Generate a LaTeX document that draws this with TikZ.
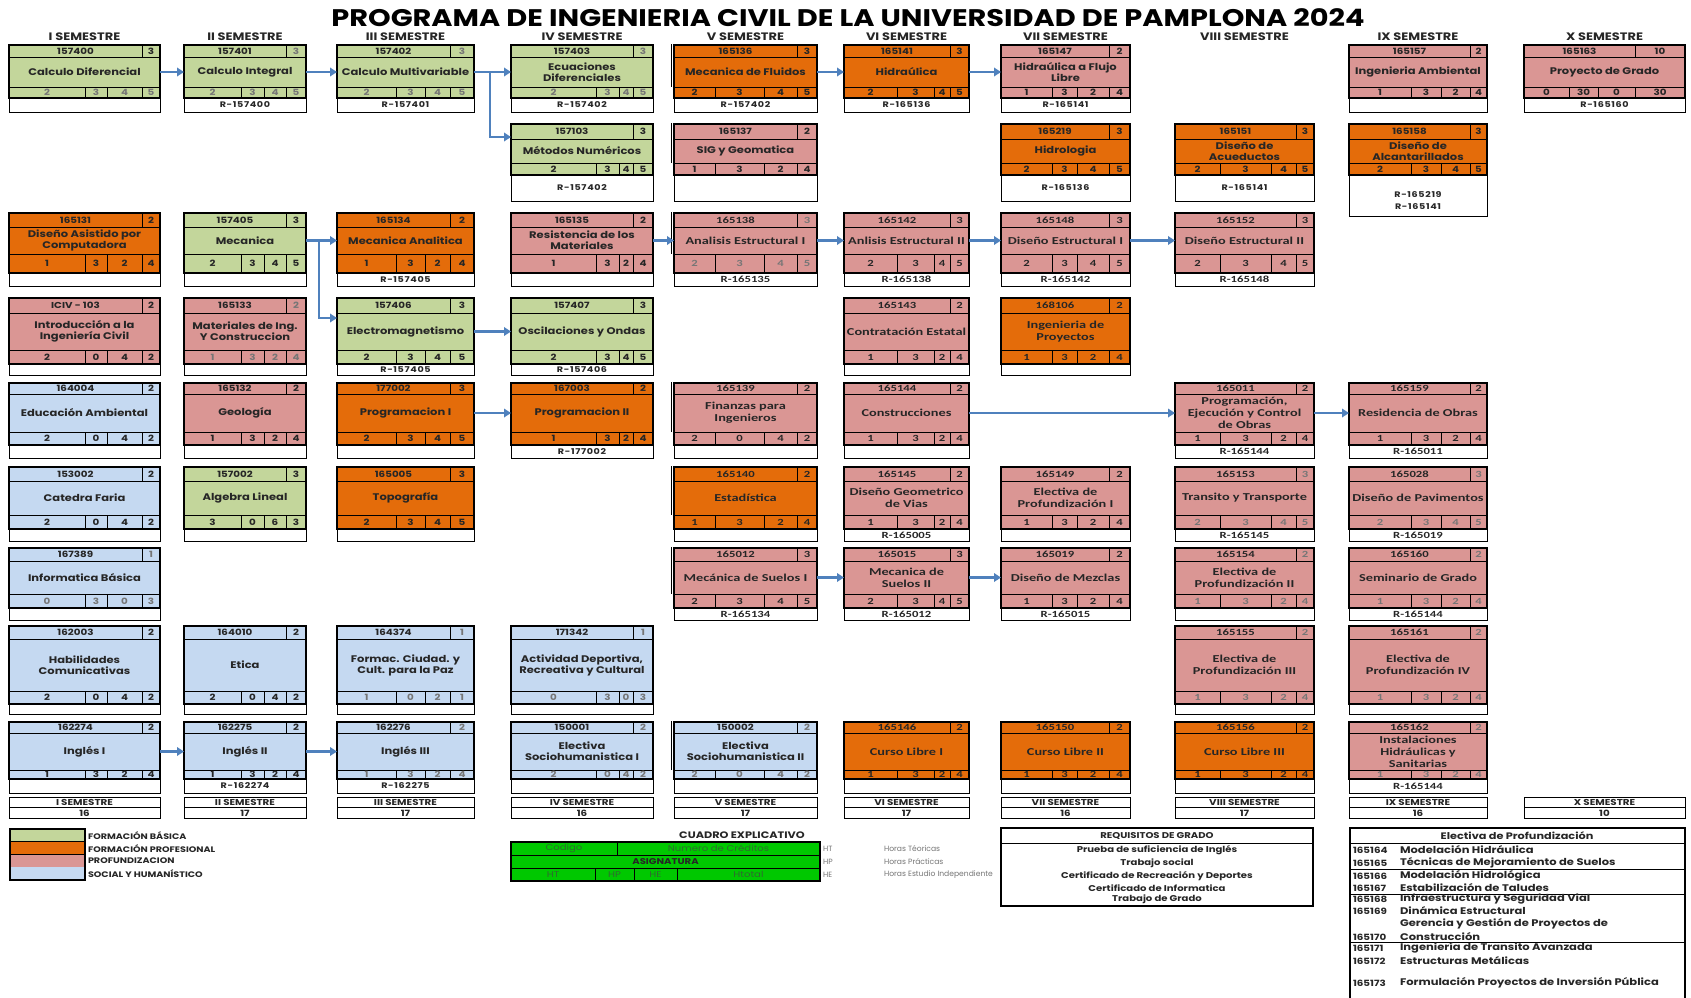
\documentclass[tikz,border=0pt]{standalone}
\usepackage{fontspec}
\setmainfont{Poppins}
\newfontfamily\gothic[FakeStretch=1.2]{Poppins}
\newfontfamily\gothicwide[FakeStretch=1.2,LetterSpace=8]{Poppins}
\newfontfamily\calib[FakeStretch=1.35]{Carlito}
\usetikzlibrary{arrows.meta}

\definecolor{basica}{HTML}{C3D69B}
\definecolor{profesional}{HTML}{E46C0A}
\definecolor{profund}{HTML}{DA9694}
\definecolor{social}{HTML}{C5D9F1}
\definecolor{flecha}{HTML}{4F81BD}
\definecolor{tinta}{HTML}{262626}
\definecolor{tenue}{HTML}{767676}
\definecolor{verde}{HTML}{00C800}
\definecolor{verdetxt}{HTML}{2F6A2F}

% fonts used inside the course boxes
\def\gothicTitle{\gothic\bfseries\fontsize{9.6}{11}\selectfont}
\def\gothicSmall{\gothic\bfseries\fontsize{8.6}{9}\selectfont}
\def\gothicReq{\gothicwide\bfseries\fontsize{8}{11.5}\selectfont}
\def\calibTitle{\calib\bfseries\fontsize{10.6}{12}\selectfont}
\def\calibSmall{\calib\bfseries\fontsize{9.4}{10}\selectfont}
\def\calibReq{\calib\bfseries\fontsize{9.4}{11}\selectfont}

% column geometry: left, right, and the three dividers of the hours row
\def\setcol#1#2#3#4#5{\def\xa{#1}\def\xb{#2}\def\da{#3}\def\db{#4}\def\dc{#5}}
\expandafter\def\csname cgI\endcsname{\setcol{9}{160}{85}{107}{142}}
\expandafter\def\csname cgII\endcsname{\setcol{184}{306}{241}{264}{286}}
\expandafter\def\csname cgIII\endcsname{\setcol{337}{474}{396}{425}{450}}
\expandafter\def\csname cgIV\endcsname{\setcol{511}{653}{596}{619}{633}}
\expandafter\def\csname cgV\endcsname{\setcol{674}{817}{715}{764}{797}}
\expandafter\def\csname cgVI\endcsname{\setcol{844}{969}{897}{934}{950}}
\expandafter\def\csname cgVII\endcsname{\setcol{1001}{1130}{1052}{1077}{1109}}
\expandafter\def\csname cgVIII\endcsname{\setcol{1175}{1314}{1220}{1271}{1296}}
\expandafter\def\csname cgIX\endcsname{\setcol{1349}{1487}{1411}{1441}{1470}}
\expandafter\def\csname cgX\endcsname{\setcol{1524}{1685}{1569}{1598}{1635}}

% row geometry: top, code row bottom, name bottom, hours bottom, requisite bottom
\def\setrow#1#2#3#4#5{\def\ya{#1}\def\yb{#2}\def\yc{#3}\def\yd{#4}\def\ye{#5}}
\expandafter\def\csname rg1\endcsname{\setrow{45}{57}{87}{98}{112}}
\expandafter\def\csname rg2\endcsname{\setrow{124}{139}{163}{175}{201}}
\expandafter\def\csname rg3\endcsname{\setrow{213}{227}{254}{273}{286}}
\expandafter\def\csname rg4\endcsname{\setrow{298}{313}{350}{364}{375}}
\expandafter\def\csname rg5\endcsname{\setrow{383}{394}{432}{445}{458}}
\expandafter\def\csname rg6\endcsname{\setrow{467}{481}{515}{529}{541}}
\expandafter\def\csname rg7\endcsname{\setrow{548}{561}{594}{608}{620}}
\expandafter\def\csname rg8\endcsname{\setrow{626}{639}{691}{704}{714}}
\expandafter\def\csname rg9\endcsname{\setrow{722}{733}{770}{779}{793}}

\def\splithours#1/#2/#3/#4\relax{\def\ha{#1}\def\hb{#2}\def\hc{#3}\def\hd{#4}}

\pgfkeys{
  /crs/.is family,
  /crs/colour/.store in=\crsColour,
  /crs/hours/.store in=\crsHours,
  /crs/credit/.store in=\crsCredit,
  /crs/reqdrop/.store in=\crsDrop,
  /crs/reqshift/.store in=\crsShift,
  /crs/edge/.store in=\crsEdge,
  /crs/ghost/.style={/crs/edge=1},
  /crs/muted/.style={/crs/hours=tenue,/crs/credit=tenue},
  /crs/gothic/.code={\def\crsTitleFont{\gothicTitle}\def\crsSmallFont{\gothicSmall}\def\crsReqFont{\gothicReq}},
  /crs/calibri/.code={\def\crsTitleFont{\calibTitle}\def\crsSmallFont{\calibSmall}\def\crsReqFont{\calibReq}},
}

\tikzset{
  cellrule/.style={draw=black,line width=0.8pt},
  boxframe/.style={draw=black,line width=2.3pt},
  reqrule/.style={draw=black,line width=1pt,fill=white},
  txt/.style={inner sep=0pt,outer sep=0pt,text=tinta},
  prereq/.style={draw=flecha,line width=2.6pt,-{Triangle[length=7pt,width=8.5pt]}},
  semhead/.style={txt,font=\gothic\bfseries\fontsize{10.8}{12}\selectfont},
  footcell/.style={txt,draw=black,line width=0.9pt,minimum height=10.5pt,
    font=\gothic\bfseries\fontsize{8.6}{9}\selectfont},
  legtxt/.style={txt,anchor=west,font=\gothic\bfseries\fontsize{8}{9}\selectfont},
  notetxt/.style={txt,font=\gothic\bfseries\fontsize{8.4}{9}\selectfont},
  listtxt/.style={txt,anchor=west,font=\gothic\bfseries\fontsize{9.6}{10}\selectfont},
  listcode/.style={txt,anchor=west,font=\gothic\bfseries\fontsize{8.6}{9}\selectfont},
}

% one course: [options]{node}{column}{row}{code}{credits}{name}{hours a/b/c/d}{requisite}
\newcommand\course[9][]{%
\begin{scope}
  \pgfkeys{/crs/.cd,colour=profund,hours=tinta,credit=tinta,gothic,reqdrop=0,reqshift=0,edge=0,#1}%
  \csname cg#3\endcsname\csname rg#4\endcsname
  \pgfmathsetmacro\ye{\ye+\crsDrop}%
  \splithours#8\relax
  \draw[reqrule] (\xa,\yd) rectangle (\xb,\ye);
  \fill[\crsColour] (\xa,\ya) rectangle (\xb,\yd);
  \ifnum\crsEdge=1 \draw[line width=0.7pt] ({\xa-3},{\ya-1}) -- ({\xa-3},\yc);\fi
  \draw[cellrule] (\xa,\yb) -- (\xb,\yb) (\xa,\yc) -- (\xb,\yc)
    (\dc,\ya) -- (\dc,\yb) (\da,\yc) -- (\da,\yd) (\db,\yc) -- (\db,\yd) (\dc,\yc) -- (\dc,\yd);
  \draw[boxframe] (\xa,\ya) rectangle (\xb,\yd);
  \node[txt,font=\crsSmallFont] (#2-code) at ({(\xa+\dc)/2},{(\ya+\yb)/2}) {#5};
  \node[txt,font=\crsSmallFont,text=\crsCredit] (#2-cr) at ({(\dc+\xb)/2},{(\ya+\yb)/2}) {#6};
  \node[txt,font=\crsTitleFont,align=center,minimum width={\xb-\xa},minimum height={\yc-\yb}]
    (#2) at ({(\xa+\xb)/2},{(\yb+\yc)/2}) {#7};
  \node[txt,font=\crsSmallFont,text=\crsHours] (#2-ht) at ({(\xa+\da)/2},{(\yc+\yd)/2}) {\ha};
  \node[txt,font=\crsSmallFont,text=\crsHours] (#2-hp) at ({(\da+\db)/2},{(\yc+\yd)/2}) {\hb};
  \node[txt,font=\crsSmallFont,text=\crsHours] (#2-he) at ({(\db+\dc)/2},{(\yc+\yd)/2}) {\hc};
  \node[txt,font=\crsSmallFont,text=\crsHours] (#2-hs) at ({(\dc+\xb)/2},{(\yc+\yd)/2}) {\hd};
  \if\relax\detokenize{#9}\relax\else
    \node[txt,font=\crsReqFont,align=center] (#2-req) at ({(\xa+\xb)/2},{(\yd+\ye)/2+\crsShift}) {#9};
  \fi
\end{scope}}

\begin{document}
\begin{tikzpicture}[x=1pt,y=-1pt]
\useasboundingbox[fill=white] (0,0) rectangle (1691,997);

\node[txt,text=black,font=\gothic\bfseries\fontsize{24}{26}\selectfont] (titulo) at (848,18)
  {PROGRAMA DE INGENIERIA CIVIL DE LA UNIVERSIDAD DE PAMPLONA 2024};

% semester headings, footers and credit totals
\foreach \semc/\tot [count=\i] in {I/16,II/17,III/17,IV/16,V/17,VI/17,VII/16,VIII/17,IX/16,X/10}{
  \csname cg\semc\endcsname
  \node[semhead] (sem\i) at ({(\xa+\xb)/2},37) {\semc\ SEMESTRE};
  \node[footcell,minimum width={\xb-\xa}] (foot\i) at ({(\xa+\xb)/2},802.5) {\semc\ SEMESTRE};
  \node[footcell,minimum width={\xb-\xa}] (tot\i) at ({(\xa+\xb)/2},813) {\tot};
}

% I semestre
\course[colour=basica,hours=tenue]{c157400}{I}{1}{157400}{3}{Calculo Diferencial}{2/3/4/5}{}
\course[colour=profesional]{c165131}{I}{3}{165131}{2}{Diseño Asistido por\\Computadora}{1/3/2/4}{}
\course{cICIV}{I}{4}{ICIV - 103}{2}{Introducción a la\\Ingeniería Civil}{2/0/4/2}{}
\course[colour=social]{c164004}{I}{5}{164004}{2}{Educación Ambiental}{2/0/4/2}{}
\course[colour=social]{c153002}{I}{6}{153002}{2}{Catedra Faria}{2/0/4/2}{}
\course[colour=social,muted]{c167389}{I}{7}{167389}{1}{Informatica Básica}{0/3/0/3}{}
\course[colour=social]{c162003}{I}{8}{162003}{2}{Habilidades\\Comunicativas}{2/0/4/2}{}
\course[colour=social]{c162274}{I}{9}{162274}{2}{Inglés I}{1/3/2/4}{}

% II semestre
\course[colour=basica,muted]{c157401}{II}{1}{157401}{3}{Calculo Integral}{2/3/4/5}{R-157400}
\course[colour=basica]{c157405}{II}{3}{157405}{3}{Mecanica}{2/3/4/5}{}
\course[muted]{c165133}{II}{4}{165133}{2}{Materiales de Ing.\\Y Construccion}{1/3/2/4}{}
\course{c165132}{II}{5}{165132}{2}{Geología}{1/3/2/4}{}
\course[colour=basica]{c157002}{II}{6}{157002}{3}{Algebra Lineal}{3/0/6/3}{}
\course[colour=social]{c164010}{II}{8}{164010}{2}{Etica}{2/0/4/2}{}
\course[colour=social]{c162275}{II}{9}{162275}{2}{Inglés II}{1/3/2/4}{R-162274}

% III semestre
\course[colour=basica,muted]{c157402}{III}{1}{157402}{3}{Calculo Multivariable}{2/3/4/5}{R-157401}
\course[colour=profesional]{c165134}{III}{3}{165134}{2}{Mecanica Analitica}{1/3/2/4}{R-157405}
\course[colour=basica]{c157406}{III}{4}{157406}{3}{Electromagnetismo}{2/3/4/5}{R-157405}
\course[colour=profesional]{c177002}{III}{5}{177002}{3}{Programacion I}{2/3/4/5}{}
\course[colour=profesional]{c165005}{III}{6}{165005}{3}{Topografía}{2/3/4/5}{}
\course[colour=social,muted]{c164374}{III}{8}{164374}{1}{Formac. Ciudad. y\\Cult. para la Paz}{1/0/2/1}{}
\course[colour=social,muted]{c162276}{III}{9}{162276}{2}{Inglés III}{1/3/2/4}{R-162275}

% IV semestre
\course[colour=basica,muted]{c157403}{IV}{1}{157403}{3}{Ecuaciones\\Diferenciales}{2/3/4/5}{R-157402}
\course[colour=basica]{c157103}{IV}{2}{157103}{3}{Métodos Numéricos}{2/3/4/5}{R-157402}
\course{c165135}{IV}{3}{165135}{2}{Resistencia de los\\Materiales}{1/3/2/4}{}
\course[colour=basica]{c157407}{IV}{4}{157407}{3}{Oscilaciones y Ondas}{2/3/4/5}{R-157406}
\course[colour=profesional]{c167003}{IV}{5}{167003}{2}{Programacion II}{1/3/2/4}{R-177002}
\course[colour=social,muted]{c171342}{IV}{8}{171342}{1}{Actividad Deportiva,\\Recreativa y Cultural}{0/3/0/3}{}
\course[colour=social,muted]{c150001}{IV}{9}{150001}{2}{Electiva\\Sociohumanistica I}{2/0/4/2}{}

% V semestre
\course[colour=profesional,ghost]{c165136}{V}{1}{165136}{3}{Mecanica de Fluidos}{2/3/4/5}{R-157402}
\course[ghost]{c165137}{V}{2}{165137}{2}{SIG y Geomatica}{1/3/2/4}{}
\course[calibri,muted,ghost]{c165138}{V}{3}{165138}{3}{Analisis Estructural I}{2/3/4/5}{R-165135}
\course[calibri,ghost]{c165139}{V}{5}{165139}{2}{Finanzas para\\Ingenieros}{2/0/4/2}{}
\course[calibri,colour=profesional,ghost]{c165140}{V}{6}{165140}{2}{Estadística}{1/3/2/4}{}
\course[calibri,ghost]{c165012}{V}{7}{165012}{3}{Mecánica de Suelos I}{2/3/4/5}{R-165134}
\course[colour=social,muted,ghost]{c150002}{V}{9}{150002}{2}{Electiva\\Sociohumanistica II}{2/0/4/2}{}

% VI semestre
\course[colour=profesional]{c165141}{VI}{1}{165141}{3}{Hidraúlica}{2/3/4/5}{R-165136}
\course[calibri]{c165142}{VI}{3}{165142}{3}{Anlisis Estructural II}{2/3/4/5}{R-165138}
\course[calibri]{c165143}{VI}{4}{165143}{2}{Contratación Estatal}{1/3/2/4}{}
\course[calibri]{c165144}{VI}{5}{165144}{2}{Construcciones}{1/3/2/4}{}
\course[calibri]{c165145}{VI}{6}{165145}{2}{Diseño Geometrico\\de Vias}{1/3/2/4}{R-165005}
\course[calibri]{c165015}{VI}{7}{165015}{3}{Mecanica de\\Suelos II}{2/3/4/5}{R-165012}
\course[calibri,colour=profesional]{c165146}{VI}{9}{165146}{2}{Curso Libre I}{1/3/2/4}{}

% VII semestre
\course{c165147}{VII}{1}{165147}{2}{Hidraúlica a Flujo\\Libre}{1/3/2/4}{R-165141}
\course[colour=profesional]{c165219}{VII}{2}{165219}{3}{Hidrologia}{2/3/4/5}{R-165136}
\course[calibri]{c165148}{VII}{3}{165148}{3}{Diseño Estructural I}{2/3/4/5}{R-165142}
\course[calibri,colour=profesional]{c168106}{VII}{4}{168106}{2}{Ingenieria de\\Proyectos}{1/3/2/4}{}
\course[calibri]{c165149}{VII}{6}{165149}{2}{Electiva de\\Profundización I}{1/3/2/4}{}
\course[calibri]{c165019}{VII}{7}{165019}{2}{Diseño de Mezclas}{1/3/2/4}{R-165015}
\course[calibri,colour=profesional]{c165150}{VII}{9}{165150}{2}{Curso Libre II}{1/3/2/4}{}

% VIII semestre
\course[colour=profesional]{c165151}{VIII}{2}{165151}{3}{Diseño de\\Acueductos}{2/3/4/5}{R-165141}
\course[calibri]{c165152}{VIII}{3}{165152}{3}{Diseño Estructural II}{2/3/4/5}{R-165148}
\course[calibri]{c165011}{VIII}{5}{165011}{2}{Programación,\\Ejecución y Control\\de Obras}{1/3/2/4}{R-165144}
\course[calibri,muted]{c165153}{VIII}{6}{165153}{3}{Transito y Transporte}{2/3/4/5}{R-165145}
\course[calibri,muted]{c165154}{VIII}{7}{165154}{2}{Electiva de\\Profundización II}{1/3/2/4}{}
\course[calibri,muted]{c165155}{VIII}{8}{165155}{2}{Electiva de\\Profundización III}{1/3/2/4}{}
\course[calibri,colour=profesional]{c165156}{VIII}{9}{165156}{2}{Curso Libre III}{1/3/2/4}{}

% IX semestre
\course{c165157}{IX}{1}{165157}{2}{Ingenieria Ambiental}{1/3/2/4}{}
\course[colour=profesional,reqdrop=15,reqshift=5]{c165158}{IX}{2}{165158}{3}{Diseño de\\Alcantarillados}{2/3/4/5}{R-165219\\R-165141}
\course[calibri]{c165159}{IX}{5}{165159}{2}{Residencia de Obras}{1/3/2/4}{R-165011}
\course[calibri,muted]{c165028}{IX}{6}{165028}{3}{Diseño de Pavimentos}{2/3/4/5}{R-165019}
\course[calibri,muted]{c165160}{IX}{7}{165160}{2}{Seminario de Grado}{1/3/2/4}{R-165144}
\course[calibri,muted]{c165161}{IX}{8}{165161}{2}{Electiva de\\Profundización IV}{1/3/2/4}{}
\course[calibri,muted]{c165162}{IX}{9}{165162}{2}{Instalaciones\\Hidráulicas y\\Sanitarias}{1/3/2/4}{R-165144}

% X semestre
\course{c165163}{X}{1}{165163}{10}{Proyecto de Grado}{0/30/0/30}{R-165160}

% prerequisite arrows
\draw[prereq] (c157400.east) -- (c157401.west);
\draw[prereq] (c157401.east) -- (c157402.west);
\draw[prereq] (c157402.east) -- (c157403.west);
\path (c157402.east) ++(16,0) coordinate (j1);
\coordinate (k1) at (j1 |- 0,137);
\draw[prereq] (j1) -- (k1) -- (k1 -| c157103.west);
\draw[prereq] (c165136.east) -- (c165141.west);
\draw[prereq] (c165141.east) -- (c165147.west);
\draw[prereq] (c157405.east) -- (c165134.west);
\path (c157405.east) ++(13,0) coordinate (j2);
\coordinate (k2) at (j2 |- 0,318);
\draw[prereq] (j2) -- (k2) -- (k2 -| c157406.west);
\draw[prereq] (c165135.east) -- (c165138.west);
\draw[prereq] (c165138.east) -- (c165142.west);
\draw[prereq] (c165142.east) -- (c165148.west);
\draw[prereq] (c165148.east) -- (c165152.west);
\draw[prereq] (c157406.east) -- (c157407.west);
\draw[prereq] (c177002.east) -- (c167003.west);
\draw[prereq] (c165144.east) -- (c165011.west);
\draw[prereq] (c165011.east) -- (c165159.west);
\draw[prereq] (c165012.east) -- (c165015.west);
\draw[prereq] (c165015.east) -- (c165019.west);
\draw[prereq] (c162274.east) -- (c162275.west);
\draw[prereq] (c162275.east) -- (c162276.west);

% colour legend
\foreach \colr/\lab [count=\i] in {basica/FORMACIÓN BÁSICA,profesional/FORMACIÓN PROFESIONAL,profund/PROFUNDIZACION,social/SOCIAL Y HUMANÍSTICO}{
  \pgfmathsetmacro\yy{829+(\i-1)*12.75}
  \fill[\colr] (10,\yy) rectangle (85,{\yy+12.75});
  \draw[cellrule] (10,{\yy+12.75}) -- (85,{\yy+12.75});
  \node[legtxt] (leg\i) at (88,{\yy+6.4}) {\lab};
}
\draw[boxframe] (10,829) rectangle (85,880);

% explanatory key
\node[notetxt,font=\gothic\bfseries\fontsize{9.4}{10}\selectfont] (cuadro) at (742,835) {CUADRO EXPLICATIVO};
\fill[verde] (511,842) rectangle (820,881);
\draw[cellrule] (511,855) -- (820,855) (511,868) -- (820,868) (617,842) -- (617,855)
  (595,868) -- (595,881) (634,868) -- (634,881) (677,868) -- (677,881);
\draw[boxframe] (511,842) rectangle (820,881);
\begin{scope}[every node/.style={txt,text=verdetxt,font=\gothic\fontsize{8.4}{9}\selectfont}]
  \node (kcod) at (564,848.5) {Codigo};
  \node (kcre) at (718.5,848.5) {Numero de Créditos};
  \node[text=tinta,font=\gothic\bfseries\fontsize{8.4}{9}\selectfont] (kasi) at (665.5,861.5) {ASIGNATURA};
  \node (kht) at (553,874.5) {HT};
  \node (khp) at (614.5,874.5) {HP};
  \node (khe) at (655.5,874.5) {HE};
  \node (khto) at (748.5,874.5) {Htotal};
\end{scope}
\begin{scope}[every node/.style={txt,anchor=west,text=tenue,font=\fontsize{7.6}{9}\selectfont}]
  \node (aht) at (823,848.5) {HT};
  \node (ahp) at (823,861.5) {HP};
  \node (ahe) at (823,874.5) {HE};
  \node (dht) at (884,848.5) {Horas Téoricas};
  \node (dhp) at (884,861.5) {Horas Prácticas};
  \node (dhe) at (884,874.5) {Horas Estudio Independiente};
\end{scope}

% graduation requirements
\draw[boxframe] (1001,828) rectangle (1313,906);
\draw[cellrule] (1001,843) -- (1313,843);
\begin{scope}[every node/.style={notetxt}]
  \node (rqh) at (1157,836) {REQUISITOS DE GRADO};
  \node (rq1) at (1157,850) {Prueba de suficiencia de Inglés};
  \node (rq2) at (1157,863) {Trabajo social};
  \node (rq3) at (1157,876) {Certificado de Recreación y Deportes};
  \node (rq4) at (1157,888) {Certificado de Informatica};
  \node (rq5) at (1157,899) {Trabajo de Grado};
\end{scope}

% elective courses
\draw[boxframe] (1350,828) rectangle (1685,1010);
\draw[cellrule] (1350,843) -- (1685,843) (1350,869) -- (1685,869) (1350,894) -- (1685,894) (1350,942) -- (1685,942);
\node[notetxt,font=\gothic\bfseries\fontsize{9.4}{10}\selectfont] (elh) at (1517,836) {Electiva de Profundización};
\begin{scope}[every node/.style={listtxt}]
  \node[listcode] (e64) at (1353,850) {165164}; \node (n64) at (1400,850) {Modelación Hidráulica};
  \node[listcode] (e65) at (1353,863) {165165}; \node (n65) at (1400,863) {Técnicas de Mejoramiento de Suelos};
  \node[listcode] (e66) at (1353,876) {165166}; \node (n66) at (1400,876) {Modelación Hidrológica};
  \node[listcode] (e67) at (1353,888) {165167}; \node (n67) at (1400,888) {Estabilización de Taludes};
  \node[listcode] (e68) at (1353,899) {165168}; \node (n68) at (1400,899) {Infraestructura y Seguridad Vial};
  \node[listcode] (e69) at (1353,911) {165169}; \node (n69) at (1400,911) {Dinámica Estructural};
  \node (n70a) at (1400,924) {Gerencia y Gestión de Proyectos de};
  \node[listcode] (e70) at (1353,937) {165170}; \node (n70) at (1400,937) {Construcción};
  \node[listcode] (e71) at (1353,948) {165171}; \node (n71) at (1400,948) {Ingeniería de Transito Avanzada};
  \node[listcode] (e72) at (1353,961) {165172}; \node (n72) at (1400,961) {Estructuras Metálicas};
  \node[listcode] (e73) at (1353,983) {165173}; \node (n73) at (1400,983) {Formulación Proyectos de Inversión Pública};
\end{scope}
\end{tikzpicture}
\end{document}
